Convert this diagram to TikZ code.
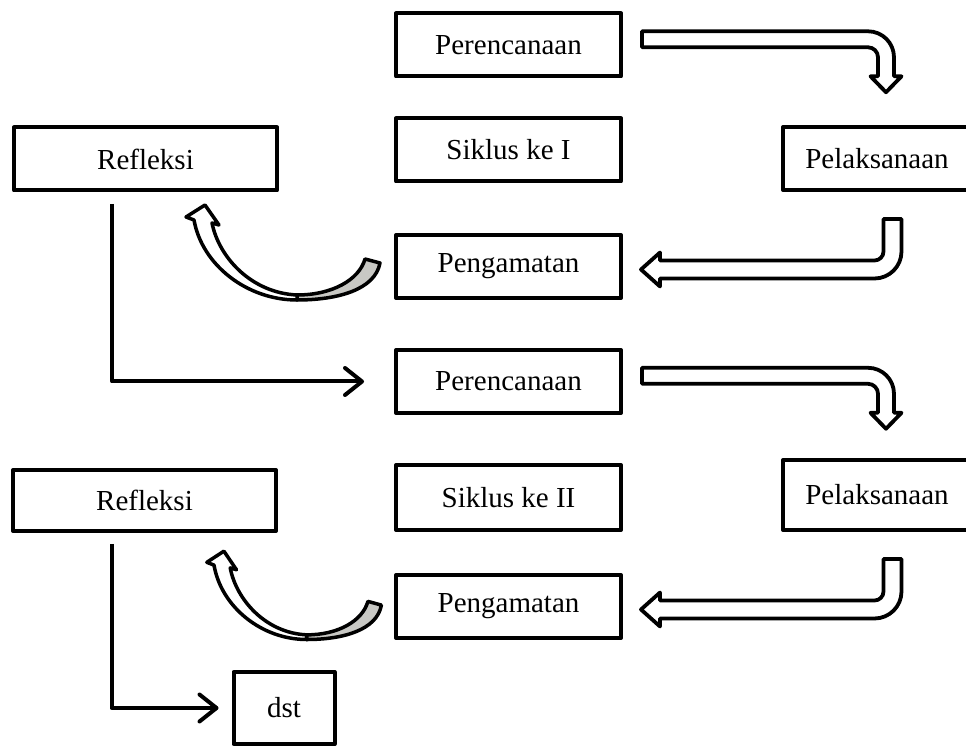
\documentclass[tikz,border=0pt]{standalone}
\usepackage{fontspec}
\setmainfont{Liberation Serif}
\usepackage{tikz}
\usetikzlibrary{positioning,arrows.meta}
\definecolor{backgray}{RGB}{200,200,196}

\tikzset{
  box/.style={draw,line width=4pt,line join=round,inner sep=0pt,minimum width=225pt,minimum height=63pt},
  blockarr/.style={draw,fill=white,line width=3.8pt,line join=round},
  thinarr/.style={line width=4pt,line join=round,-{Straight Barb[length=17pt,width=27pt,round]}},
  curvback/.style={draw,fill=backgray,line width=3.5pt,line join=round},
  curvfront/.style={draw,fill=white,line width=3.5pt,line join=round},
  pics/bentdown/.style={code={
    \draw[blockarr] (0,8) -- (226,8) arc[start angle=90,end angle=0,radius=26pt] -- (252,-37) -- (259.5,-37) -- (244,-53)
      -- (228.5,-37) -- (236,-37) -- (236,-18) arc[start angle=0,end angle=90,radius=10pt] -- (0,-8) -- cycle;
  }},
  pics/bentleft/.style={code={
    \draw[blockarr] (-9,0) -- (9,0) -- (9,-32.5) arc[start angle=0,end angle=-90,radius=27pt] -- (-232.5,-59.5) -- (-232.5,-67.5)
      -- (-251.5,-50.5) -- (-232.5,-33.5) -- (-232.5,-41.5) -- (-18,-41.5) arc[start angle=-90,end angle=0,radius=9pt] -- cycle;
  }},
  pics/curvarr/.style={code={
    \filldraw[curvback] (-29,7.5) -- (-14,3.5) .. controls (-19,-23.5) and (-57,-33.5) .. (-97,-33.5)
      -- (-97,-28.5) .. controls (-62,-28.5) and (-35,-13.5) .. (-29,7.5) -- cycle;
    \filldraw[curvfront] (-97,-33.5) .. controls (-147,-33.5) and (-192,1.5) .. (-200,46.5) -- (-208,49.5) -- (-189,61.5)
      -- (-175,41.5) -- (-182,43.5) .. controls (-175,8.5) and (-142,-26.5) .. (-97,-28.5) -- cycle;
  }}
}

\begin{document}
\begin{tikzpicture}[x=1pt,y=1pt]
\tikzstyle{every node}=[font=\fontsize{29pt}{34pt}\selectfont]
\useasboundingbox (0,0) rectangle (966,749);
% siklus I
\node[box] (per1) at (508.5,704) {Perencanaan};
\node[box,below of=per1,node distance=105pt] (sik1) {Siklus ke I};
\node[box,below of=sik1,node distance=116.5pt] (amat1) {Pengamatan};
\node[box,left of=sik1,node distance=363pt,yshift=-9pt,minimum width=263pt] (ref1) {Refleksi};
\node[box,right of=sik1,node distance=368.5pt,yshift=-8.5pt,minimum width=188pt] (lak1) {Pelaksanaan};
\pic at ([xshift=19pt,yshift=5.7pt]per1.east) {bentdown};
\pic at ([xshift=15.5pt,yshift=-27pt]lak1.south) {bentleft};
\pic at (amat1.west) {curvarr};
% siklus II
\node[box,below of=amat1,node distance=115pt] (per2) {Perencanaan};
\node[box,below of=per2,node distance=116pt,minimum height=65pt] (sik2) {Siklus ke II};
\node[box,below of=sik2,node distance=109pt] (amat2) {Pengamatan};
\node[box,left of=sik2,node distance=364pt,yshift=-3pt,minimum width=263pt,minimum height=61pt] (ref2) {Refleksi};
\node[box,right of=sik2,node distance=368.5pt,yshift=2.5pt,minimum width=188pt,minimum height=70pt] (lak2) {Pelaksanaan};
\node[box,below of=amat2,node distance=101.5pt,xshift=-224.5pt,minimum width=101pt,minimum height=72pt] (dst) {dst};
\pic at ([xshift=19pt,yshift=5.7pt]per2.east) {bentdown};
\pic at ([xshift=15.5pt,yshift=-27pt]lak2.south) {bentleft};
\pic[xscale=0.9,yscale=0.93,yshift=-2pt] at (amat2.west) {curvarr};
\draw[thinarr] ([xshift=-33.5pt,yshift=-11.5pt]ref1.south) |- ([xshift=-30pt]per2.west);
\draw[thinarr] ([xshift=-33pt,yshift=-11pt]ref2.south) |- ([xshift=-13pt]dst.west);
\end{tikzpicture}
\end{document}
